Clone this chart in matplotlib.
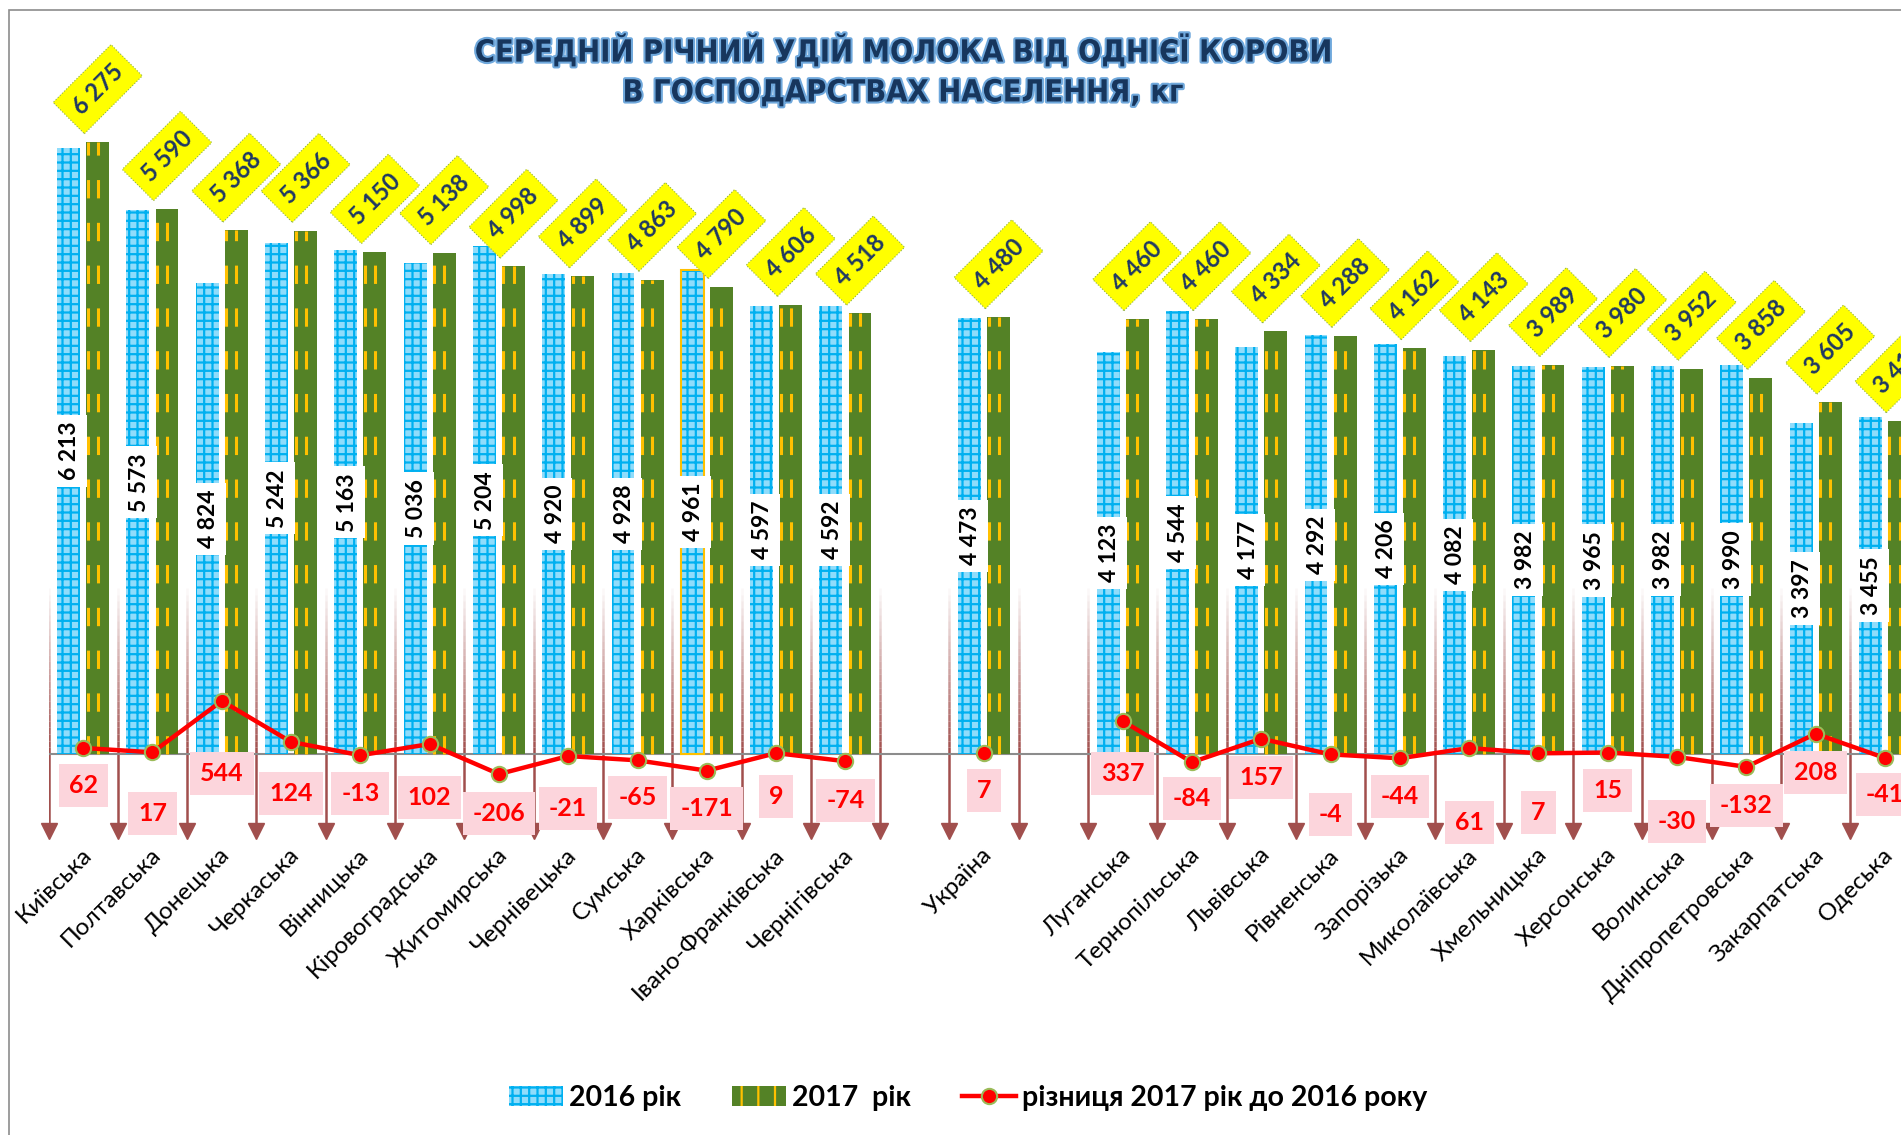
import numpy as np
import matplotlib.pyplot as plt
import matplotlib.patheffects as pe
from matplotlib.collections import LineCollection
from matplotlib.patches import Rectangle, Patch
from matplotlib.lines import Line2D

plt.rcParams['font.family'] = ['Lato', 'DejaVu Sans']
plt.rcParams['hatch.linewidth'] = 1.6

# regions, with two empty slots around the national figure
categories = ['Київська', 'Полтавська', 'Донецька', 'Черкаська', 'Вінницька',
              'Кіровоградська', 'Житомирська', 'Чернівецька', 'Сумська', 'Харківська',
              'Івано-Франківська', 'Чернігівська', '', 'Україна', '',
              'Луганська', 'Тернопільська', 'Львівська', 'Рівненська', 'Запорізька',
              'Миколаївська', 'Хмельницька', 'Херсонська', 'Волинська',
              'Дніпропетровська', 'Закарпатська', 'Одеська']
yield_2016 = [6213, 5573, 4824, 5242, 5163, 5036, 5204, 4920, 4928, 4961, 4597, 4592,
              None, 4473, None,
              4123, 4544, 4177, 4292, 4206, 4082, 3982, 3965, 3982, 3990, 3397, 3455]
yield_2017 = [6275, 5590, 5368, 5366, 5150, 5138, 4998, 4899, 4863, 4790, 4606, 4518,
              None, 4480, None,
              4460, 4460, 4334, 4288, 4162, 4143, 3989, 3980, 3952, 3858, 3605, 3414]
diff = [62, 17, 544, 124, -13, 102, -206, -21, -65, -171, 9, -74,
        None, 7, None,
        337, -84, 157, -4, -44, 61, 7, 15, -30, -132, 208, -41]
highlight = ['Харківська']

# where the difference labels sit (kg on the value axis)
diff_label_y = [-318, -605, -205, -400, -400, -451, -605, -554, -451, -554, -431, -472,
                None, -379, None,
                -205, -461, -236, -625, -431, -707, -595, -379, -687, -523, -185, -420]

W, H = 1901, 1135
k = 0.09754          # pixels per kg
base_px = 754        # pixel row of zero

fig = plt.figure(figsize=(W / 100, H / 100), dpi=100)
ax = fig.add_axes([48.5 / W, 1 - 860 / H, 1871.1 / W, 760 / H])
ax.set_xlim(-0.5, 26.5)
ax.set_ylim(-(860 - base_px) / k, (base_px - 100) / k)
ax.axis('off')

x = np.arange(len(categories))
y16 = np.array(yield_2016, dtype=float)
y17 = np.array(yield_2017, dtype=float)
d = np.array(diff, dtype=float)
m = ~np.isnan(y16)


def fmt(v):
    return f'{v:,.0f}'.replace(',', ' ')


# separator arrows between categories (fading upward)
arrow_col = np.array([0.63, 0.31, 0.30])
bounds = np.arange(-0.5, len(categories), 1.0)
segs, cols = [], []
ys = np.linspace(1700, 0, 26)
for b in bounds:
    for j in range(len(ys) - 1):
        segs.append([(b, ys[j]), (b, ys[j + 1])])
        cols.append((*arrow_col, (j + 1) / (len(ys) - 1)))
    segs.append([(b, 0), (b, -790)])
    cols.append((*arrow_col, 1.0))
ax.add_collection(LineCollection(segs, colors=cols, linewidths=1.8, zorder=1))
ax.plot(bounds, np.full(len(bounds), -794), ls='none', marker='v', ms=11,
        color=arrow_col, clip_on=False, zorder=1)

ax.axhline(0, color='#8c8c8c', lw=1.5, zorder=2)

# bars
b16 = ax.bar(x[m] - 0.21, y16[m], width=0.33, color='#8fdcfb', edgecolor='#00b0f0',
             hatch='++', linewidth=0, zorder=3)
b17 = ax.bar(x[m] + 0.21, y17[m], width=0.33, color='#548226', linewidth=0, zorder=3)
for bar in b17:
    left, w, h = bar.get_x(), bar.get_width(), bar.get_height()
    ax.vlines([left + 0.02, left + w / 2], 0, h, colors='#ffc000', linewidth=2.2,
              linestyles=(0, (6, 8)), zorder=4)
for i, c in enumerate(categories):
    if c in highlight:
        ax.bar(x[i] - 0.21, y16[i], width=0.33, fill=False, edgecolor='#ffc000',
               linewidth=1.5, zorder=4)

# difference line
ax.plot(x, d, color='#ff0000', lw=3.2, marker='o', ms=11, mfc='#ff0000',
        mec='#9bbb59', mew=1.5, zorder=7)

# labels
for i in x[m]:
    ax.text(x[i] - 0.19, y16[i] / 2, fmt(y16[i]), rotation=90, ha='center', va='center',
            fontsize=16.5, fontweight='bold', color='black', zorder=6,
            bbox=dict(boxstyle='square,pad=0.3', fc='white', ec='none'))
    ax.annotate(fmt(y17[i]), (x[i] + 0.21, y17[i]), xytext=(0, 38),
                textcoords='offset points', rotation=45, ha='center', va='center',
                fontsize=17, fontweight='bold', color='#1f3864', annotation_clip=False,
                zorder=8,
                bbox=dict(boxstyle='square,pad=0.45', fc='#ffff00', ec='#8db04a',
                          lw=0.8, ls=':'))
    ax.text(x[i], diff_label_y[i], fmt(d[i]), ha='center', va='center', fontsize=18,
            fontweight='bold', color='#ff0000', zorder=8,
            bbox=dict(boxstyle='square,pad=0.4', fc='#fcd5dc', ec='none'))

for i, c in enumerate(categories):
    if c:
        ax.text(x[i] + 0.07, -1000, c, rotation=45, ha='right', va='center',
                rotation_mode='anchor', fontsize=17.5, color='black', clip_on=False)

# title
glow = [pe.withStroke(linewidth=3, foreground='#6fa8dc')]
title_kw = dict(ha='center', va='center', fontsize=22, fontweight='bold',
                fontstretch='condensed', color='#17365d',
                family=['DejaVu Sans'], path_effects=glow)
fig.text(902 / W, 1 - 51 / H, 'СЕРЕДНІЙ РІЧНИЙ УДІЙ МОЛОКА ВІД ОДНІЄЇ КОРОВИ', **title_kw)
fig.text(902 / W, 1 - 93 / H, 'В ГОСПОДАРСТВАХ НАСЕЛЕННЯ, кг', **title_kw)

# legend
h16 = Patch(facecolor='#8fdcfb', edgecolor='#00b0f0', hatch='++', lw=0)
h17 = Patch(facecolor='#548226', edgecolor='#ffc000', hatch='|', lw=0)
hln = Line2D([], [], color='#ff0000', lw=3.2, marker='o', ms=11, mfc='#ff0000',
             mec='#9bbb59', mew=1.5)
fig.legend([h16, h17, hln], ['2016 рік', '2017  рік', 'різниця 2017 рік до 2016 року'],
           loc='center', bbox_to_anchor=(968 / W, 1 - 1098 / H), ncol=3, frameon=False,
           prop=dict(family='Lato', weight='bold', size=20.5), handlelength=1.9,
           handleheight=0.65, handletextpad=0.2, columnspacing=1.8, numpoints=1)

# chart frame
fig.add_artist(Rectangle((9 / W, -0.1), 1.2, 1.1 - 10 / H, transform=fig.transFigure,
                         fill=False, edgecolor='#8c8c8c', lw=1.2))

fig.savefig('out.png', dpi=100)
